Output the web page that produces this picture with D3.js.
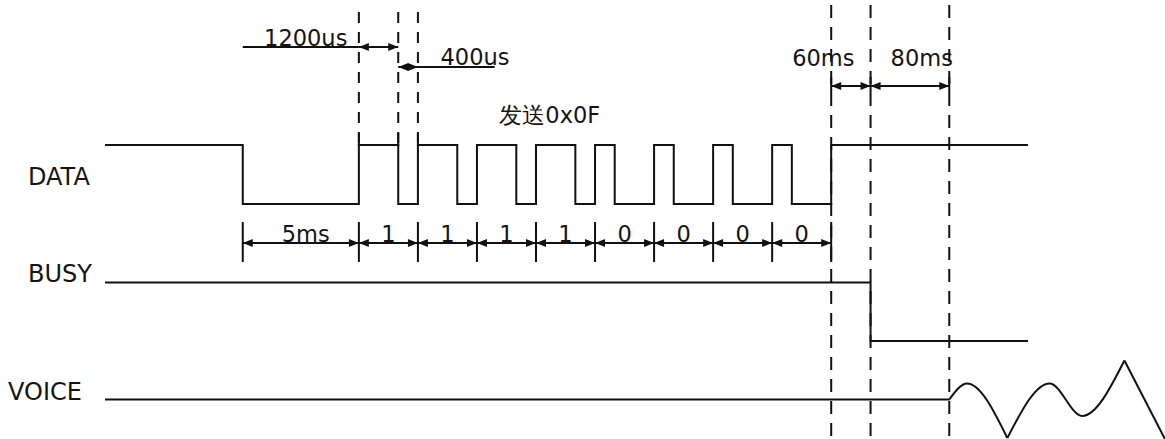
<!DOCTYPE html>
<html><head><meta charset="utf-8">
<script src="https://cdn.jsdelivr.net/npm/d3@7"></script>
<style>
body{margin:0;background:#fff}
text{font-family:"DejaVu Sans",Verdana,sans-serif;fill:#141414}
</style>
</head><body>
<svg id="c" width="1165" height="439"></svg>
<script>
// ---------- data ----------
const signalNames = ["DATA", "BUSY", "VOICE"];
const bits = ["1", "1", "1", "1", "0", "0", "0", "0"];
const sentLabel = "发送0x0F";
// time in diagram units (DATA falling edge = 0)
const lineStart = -7.0, lineEnd = 39.9;
const startLow = 5.9;          // 5ms start pulse
const bitPeriod = 3;           // one bit
const highOne = 2, highZero = 1; // 1200us / 400us high part
const busyDelay = 2;           // 60ms
const voiceDelay = 4;          // 80ms
const voiceT = [0, 0.9, 2.95, 5.1, 6.75, 8.9, 11.05];
const voiceA = [0, 16, -38.5, 16, -16.5, 39, -43];
const startLabel = "5ms", oneLabel = "1200us", zeroLabel = "400us";
const busyLabel = "60ms", voiceLabel = "80ms";

// ---------- derived times ----------
const bitsStart = startLow;
const bitsEnd = bitsStart + bits.length * bitPeriod;
const busyFall = bitsEnd + busyDelay;
const voiceStart = busyFall + voiceDelay;

const dataPts = [[lineStart, 1], [0, 0], [bitsStart, 1]];
bits.forEach((b, i) => {
  const t0 = bitsStart + i * bitPeriod;
  dataPts.push([t0 + (b === "1" ? highOne : highZero), 0]);
  dataPts.push([t0 + bitPeriod, 1]);
});
dataPts.push([lineEnd, 1]);
const busyPts = [[lineStart, 1], [busyFall, 0], [lineEnd, 0]];
const voicePts = voiceT.map((t, i) => [voiceStart + t, voiceA[i]]);

// ---------- scales ----------
const svg = d3.select("#c");
const x = d3.scaleLinear().domain([lineStart, lineEnd]).range([105, 1028]);
const yData = d3.scaleLinear().domain([0, 1]).range([204, 145]);
const yBusy = d3.scaleLinear().domain([0, 1]).range([341, 282.5]);
const yVoice = d3.scaleLinear().domain([-40, 40]).range([439.5, 359.5]);

const ink = "#111";
const FS = 22.5;

// dashed guides
const leftGuides = [bitsStart, bitsStart + highOne, bitsStart + bitPeriod];
const rightGuides = [bitsEnd, busyFall, voiceStart];
svg.selectAll("line.gl").data(leftGuides).enter().append("line")
  .attr("x1", d => x(d)).attr("x2", d => x(d)).attr("y1", 12).attr("y2", 145)
  .attr("stroke", ink).attr("stroke-width", 2).attr("stroke-dasharray", "11,9");
svg.selectAll("line.gr").data(rightGuides).enter().append("line")
  .attr("x1", d => x(d)).attr("x2", d => x(d)).attr("y1", 5).attr("y2", 439)
  .attr("stroke", ink).attr("stroke-width", 2).attr("stroke-dasharray", "13,9");

// signals
const stepLine = (ys) => d3.line().x(d => x(d[0])).y(d => ys(d[1])).curve(d3.curveStepAfter);
svg.append("path").attr("d", stepLine(yData)(dataPts))
  .attr("fill", "none").attr("stroke", ink).attr("stroke-width", 2);
svg.selectAll("line.ext").data(leftGuides).enter().append("line")
  .attr("x1", d => x(d)).attr("x2", d => x(d)).attr("y1", 133).attr("y2", 146)
  .attr("stroke", ink).attr("stroke-width", 2);
svg.append("path").attr("d", stepLine(yBusy)(busyPts))
  .attr("fill", "none").attr("stroke", ink).attr("stroke-width", 2);

// voice
const vx = d => x(d[0]), vy = d => yVoice(d[1]);
svg.append("path").attr("d", d3.line().x(vx).y(vy)([[lineStart, 0], voicePts[0]]))
  .attr("fill", "none").attr("stroke", ink).attr("stroke-width", 2);
const mono = d3.line().x(vx).y(vy).curve(d3.curveMonotoneX);
[[0, 3], [2, 6]].forEach(([a, b]) => {
  svg.append("path").attr("d", mono(voicePts.slice(a, b)))
    .attr("fill", "none").attr("stroke", ink).attr("stroke-width", 2);
});
svg.append("path").attr("d", d3.line().x(vx).y(vy)(voicePts.slice(5)))
  .attr("fill", "none").attr("stroke", ink).attr("stroke-width", 2);

// signal labels
const labelPos = [[28, 185], [28, 282], [8, 400]];
svg.selectAll("text.sig").data(signalNames).enter().append("text")
  .attr("x", (d, i) => labelPos[i][0]).attr("y", (d, i) => labelPos[i][1])
  .attr("font-size", 24).text(d => d);

// dimension arrows
function head(px, py, dir) {
  const L = 10, W = 4;
  svg.append("path")
    .attr("d", `M${px},${py}L${px - dir * L},${py - W}L${px - dir * L},${py + W}Z`)
    .attr("fill", ink);
}
function dim(t1, t2, y) {
  const x1 = x(t1), x2 = x(t2);
  svg.append("line").attr("x1", x1).attr("x2", x2).attr("y1", y).attr("y2", y)
    .attr("stroke", ink).attr("stroke-width", 2);
  head(x1, y, -1); head(x2, y, 1);
}
function hline(t1, t2, y) {
  svg.append("line").attr("x1", x(t1)).attr("x2", x(t2)).attr("y1", y).attr("y2", y)
    .attr("stroke", ink).attr("stroke-width", 2);
}
function label(t, y, s) {
  svg.append("text").attr("x", x(t)).attr("y", y).attr("text-anchor", "middle")
    .attr("font-size", FS).text(s);
}

// bit row
const rowY = 243;
const bounds = [0, bitsStart].concat(bits.map((b, i) => bitsStart + (i + 1) * bitPeriod));
svg.selectAll("line.tk").data(bounds).enter().append("line")
  .attr("x1", d => x(d)).attr("x2", d => x(d)).attr("y1", 222).attr("y2", 262)
  .attr("stroke", ink).attr("stroke-width", 2);
const cells = [[0, bitsStart, startLabel]].concat(
  bits.map((b, i) => [bitsStart + i * bitPeriod, bitsStart + (i + 1) * bitPeriod, b]));
cells.forEach(([a, b, s]) => {
  dim(a, b, rowY);
  label((a + b) / 2 + (s === startLabel ? 0.25 : 0), 242, s);
});

// top: 1200us / 400us
hline(0, bitsStart, 47);
dim(bitsStart, bitsStart + highOne, 47);
label(3.2, 46, oneLabel);
dim(bitsStart + highOne, bitsStart + bitPeriod, 67);
hline(bitsStart + bitPeriod, 12.8, 67);
label(11.8, 65, zeroLabel);

// 60ms / 80ms
dim(bitsEnd, busyFall, 86);
dim(busyFall, voiceStart, 86);
svg.selectAll("line.tt").data(rightGuides).enter().append("line")
  .attr("x1", d => x(d)).attr("x2", d => x(d)).attr("y1", 77).attr("y2", 93)
  .attr("stroke", ink).attr("stroke-width", 2);
label(29.5, 65.5, busyLabel);
label(34.5, 65.5, voiceLabel);

// sent label
label(15.6, 123, sentLabel);
</script>
</body></html>
